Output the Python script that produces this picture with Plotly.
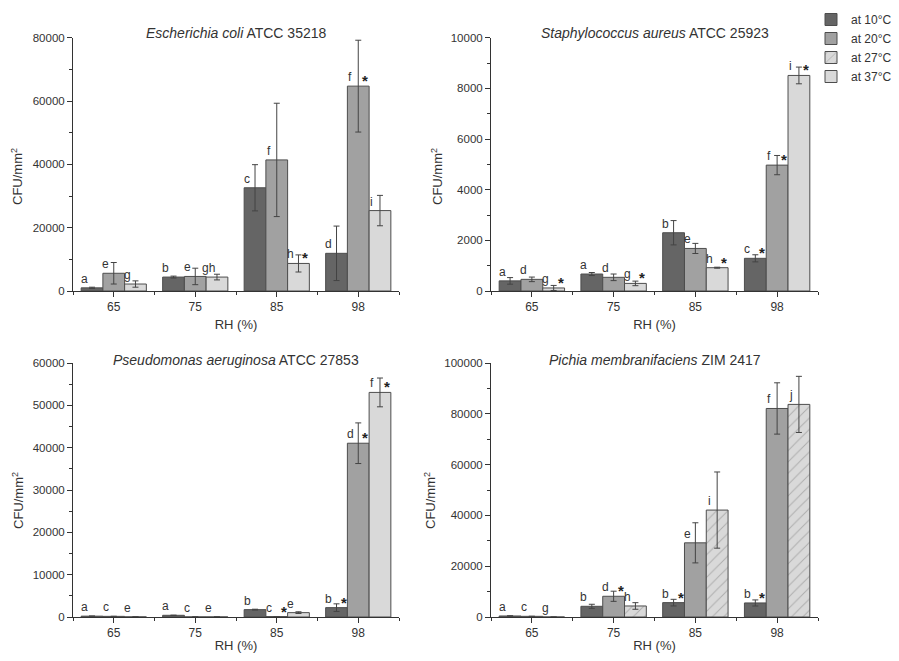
import plotly.graph_objects as go

rh = ["65", "75", "85", "98"]

# E. coli ATCC 35218
ec_10 = [1000, 4400, 32600, 11900]
ec_10_err = [200, 300, 7300, 8600]
ec_20 = [5600, 4600, 41400, 64700]
ec_20_err = [3400, 2600, 17900, 14500]
ec_37 = [2200, 4400, 8700, 25400]
ec_37_err = [1000, 900, 2700, 4800]
ec_letters = [["a", "b", "c", "d"], ["e", "e", "f", "f"], ["g", "gh", "h", "i"]]
ec_stars = [[0, 0, 0, 0], [0, 0, 0, 1], [0, 0, 1, 0]]

# S. aureus ATCC 25923
sa_10 = [400, 670, 2300, 1290]
sa_10_err = [130, 60, 480, 140]
sa_20 = [460, 540, 1680, 4970]
sa_20_err = [90, 130, 200, 380]
sa_37 = [120, 300, 920, 8510]
sa_37_err = [100, 90, 20, 330]
sa_letters = [["a", "a", "b", "c"], ["d", "d", "e", "f"], ["g", "g", "h", "i"]]
sa_stars = [[0, 0, 0, 1], [0, 0, 0, 1], [1, 1, 1, 1]]

# P. aeruginosa ATCC 27853
pa_10 = [200, 400, 1740, 2210]
pa_10_err = [0, 0, 100, 900]
pa_20 = [150, 20, 100, 41050]
pa_20_err = [0, 0, 0, 4800]
pa_37 = [30, 20, 1030, 53050]
pa_37_err = [0, 0, 200, 3400]
pa_letters = [["a", "a", "b", "b"], ["c", "c", "c", "d"], ["e", "e", "e", "f"]]
pa_stars = [[0, 0, 0, 1], [0, 0, 1, 1], [0, 0, 0, 1]]

# P. membranifaciens ZIM 2417
pm_10 = [400, 4210, 5660, 5530]
pm_10_err = [100, 800, 1300, 1200]
pm_20 = [260, 8160, 29200, 82100]
pm_20_err = [0, 2000, 7900, 10100]
pm_27 = [0, 4340, 42100, 83700]
pm_27_err = [0, 1300, 15000, 11050]
pm_letters = [["a", "b", "b", "b"], ["c", "d", "e", "f"], ["g", "h", "i", "j"]]
pm_stars = [[0, 0, 1, 1], [0, 1, 0, 0], [0, 0, 0, 0]]

titles = ["<i>Escherichia coli</i> ATCC 35218",
          "<i>Staphylococcus aureus</i> ATCC 25923",
          "<i>Pseudomonas aeruginosa</i> ATCC 27853",
          "<i>Pichia membranifaciens</i> ZIM 2417"]
y_max = [80000, 10000, 60000, 100000]
y_dtick = [20000, 2000, 10000, 20000]

C10, C20, C27, C37 = "#656565", "#a1a1a1", "#d9d9d9", "#d9d9d9"
EDGE = "#4d4d4d"
TXT = "#333333"
FONT = "Liberation Sans, Arial, sans-serif"

series_info = {
    "10": ("at 10°C", C10, None, 1),
    "20": ("at 20°C", C20, None, 2),
    "27": ("at 27°C", C27, "/", 3),
    "37": ("at 37°C", C37, None, 4),
}

panels = [
    ([("10", ec_10, ec_10_err), ("20", ec_20, ec_20_err), ("37", ec_37, ec_37_err)], ec_letters, ec_stars),
    ([("10", sa_10, sa_10_err), ("20", sa_20, sa_20_err), ("37", sa_37, sa_37_err)], sa_letters, sa_stars),
    ([("10", pa_10, pa_10_err), ("20", pa_20, pa_20_err), ("37", pa_37, pa_37_err)], pa_letters, pa_stars),
    ([("10", pm_10, pm_10_err), ("20", pm_20, pm_20_err), ("27", pm_27, pm_27_err)], pm_letters, pm_stars),
]

# page has an 8px body margin: figure is window minus margins
OFF = 8
W, H = 899 - 2 * OFF, 661 - 2 * OFF


def px(x):
    return (x - OFF) / W


def py(y):
    return 1 - (y - OFF) / H


x_doms = [(px(73), px(399)), (px(491), px(818))]
y_doms = [(py(291), py(37.7)), (py(617), py(363))]
ytitle_pos = [(17, 177), (437, 177), (18, 501), (430, 501)]
title_y = [33, 33, 360, 360]

fig = go.Figure()
shown = set()
annotations = []
layout_axes = {}

for p, (series, letters, stars) in enumerate(panels):
    ax = "" if p == 0 else str(p + 1)
    xref, yref = "x" + ax, "y" + ax
    col, row = p % 2, p // 2
    for k, (key, vals, errs) in enumerate(series):
        name, color, hatch, rank = series_info[key]
        marker = dict(color=color, line=dict(color=EDGE, width=1))
        if hatch:
            marker["pattern"] = dict(shape=hatch, bgcolor=color, fgcolor="#808080",
                                     size=8, solidity=0.12)
        fig.add_trace(go.Bar(
            x=rh, y=vals, name=name, marker=marker, legendgroup=key,
            showlegend=key not in shown, legendrank=rank,
            error_y=dict(type="data", array=errs, color="#444444", thickness=1, width=3),
            xaxis=xref, yaxis=yref,
        ))
        shown.add(key)
        for i in range(len(rh)):
            xpos = i + (k - 1) * 0.8 / 3
            annotations.append(dict(
                x=xpos, y=vals[i], xref=xref, yref=yref, text=letters[k][i],
                showarrow=False, xanchor="center", yanchor="bottom",
                xshift=-8, yshift=0, font=dict(size=12, color=TXT, family=FONT)))
            if stars[k][i]:
                annotations.append(dict(
                    x=xpos, y=vals[i], xref=xref, yref=yref, text="<b>*</b>",
                    showarrow=False, xanchor="center", yanchor="bottom",
                    xshift=7, yshift=-5, font=dict(size=15, color="#222222", family=FONT)))
    xd, yd = x_doms[col], y_doms[row]
    annotations.append(dict(
        x=(xd[0] + xd[1]) / 2, y=py(title_y[p]), xref="paper", yref="paper",
        text=titles[p], showarrow=False, xanchor="center", yanchor="middle",
        font=dict(size=14, color=TXT, family=FONT)))
    tx, ty = ytitle_pos[p]
    annotations.append(dict(
        x=px(tx), y=py(ty), xref="paper", yref="paper", text="CFU/mm<sup>2</sup>",
        textangle=-90, showarrow=False, xanchor="center", yanchor="middle",
        font=dict(size=13, color=TXT, family=FONT)))
    layout_axes["xaxis" + ax] = dict(
        domain=list(xd), anchor=yref, type="category", range=[-0.5, 3.5],
        automargin=False,
        showline=True, linecolor="#333333", linewidth=1, mirror=False,
        ticks="outside", ticklen=5, tickcolor="#333333", showgrid=False,
        tickfont=dict(size=12, color=TXT, family=FONT),
        minor=dict(tickvals=[-0.5, 0.5, 1.5, 2.5, 3.5], ticks="outside", ticklen=3,
                   tickcolor="#333333"),
        title=dict(text="RH (%)", font=dict(size=13, color=TXT, family=FONT), standoff=6),
        fixedrange=True,
    )
    layout_axes["yaxis" + ax] = dict(
        domain=list(yd), anchor=xref, range=[0, y_max[p]], dtick=y_dtick[p],
        automargin=False, tickformat="d",
        showline=True, linecolor="#333333", linewidth=1,
        ticks="outside", ticklen=5, tickcolor="#333333", showgrid=False, zeroline=False,
        tickfont=dict(size=11.5, color=TXT, family=FONT),
        minor=dict(dtick=y_dtick[p] / 2, ticks="outside", ticklen=3, tickcolor="#333333"),
        fixedrange=True,
    )

fig.update_layout(
    width=W, height=H, margin=dict(l=0, r=0, t=0, b=0, autoexpand=False),
    paper_bgcolor="white", plot_bgcolor="white",
    barmode="group", bargap=0.2, bargroupgap=0,
    annotations=annotations,
    font=dict(family=FONT, color=TXT),
    legend=dict(x=px(811), y=py(5), xanchor="left", yanchor="top",
                font=dict(size=12, color=TXT, family=FONT), tracegroupgap=0,
                itemwidth=30, bgcolor="rgba(0,0,0,0)"),
    **layout_axes,
)

fig.write_html("out.html")
